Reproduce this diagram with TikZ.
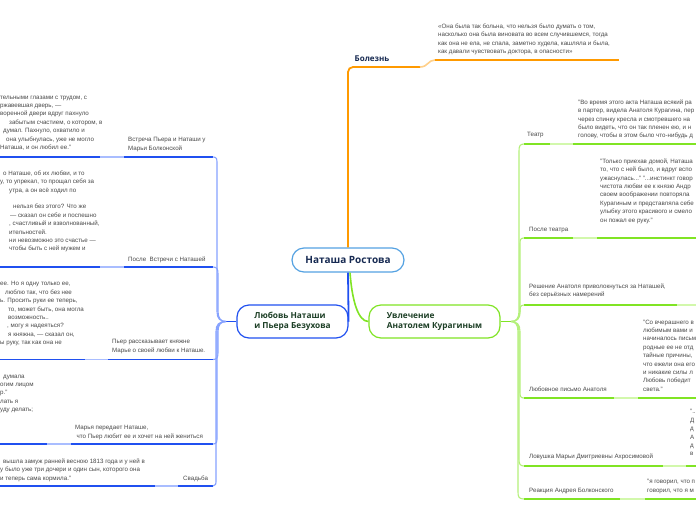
\documentclass[tikz,border=0pt]{standalone}
\usepackage{fontspec}
\setmainfont{Liberation Sans}
\newfontfamily\headfont{Open Sans}
\definecolor{notegray}{HTML}{4A4A4A}
\definecolor{bdark}{HTML}{2050F0}
\definecolor{blight}{HTML}{A9BDFF}
\definecolor{bfan}{HTML}{86A2FF}
\definecolor{gdark}{HTML}{80E424}
\definecolor{glight}{HTML}{D2F8AC}
\definecolor{gfan}{HTML}{B4F07A}
\definecolor{odark}{HTML}{FF9A00}
\definecolor{olight}{HTML}{FFD08A}
\definecolor{cborder}{HTML}{55A2E2}
\definecolor{navy}{HTML}{172A52}
\definecolor{dgreen}{HTML}{1D3F26}
\tikzset{
  txt/.style={font=\fontsize{6.2}{8.4}\selectfont, text=notegray, inner sep=0pt, align=left, anchor=north west},
  uline/.style={line width=1.6pt},
  fanL/.style={bfan, line width=1.1pt},
  fanR/.style={gfan, line width=1.1pt},
  mainnode/.style={draw, line width=1.2pt, rounded corners=12pt, fill=white, inner sep=0pt,
    font=\headfont\bfseries\fontsize{8.3}{10.6}\selectfont, text=dgreen, align=left}
}
\begin{document}
\begin{tikzpicture}[x=1pt,y=-1pt]
\clip (0,0) rectangle (696,520);
\fill[white] (0,0) rectangle (696,520);

% ---------- central and main nodes ----------
\node[draw=cborder, line width=1.2pt, rounded corners=12pt, fill=white, minimum width=112pt, minimum height=24pt,
  inner sep=0pt, font=\headfont\bfseries\fontsize{10}{12}\selectfont, text=navy] (c) at (348,260) {Наташа Ростова};
\node[mainnode, draw=bdark, minimum width=111pt, minimum height=33pt] (lm) at (292.5,321.5) {Любовь Наташи\\и Пьера Безухова};
\node[mainnode, draw=gdark, minimum width=131pt, minimum height=33pt] (rm) at (434.5,321.5) {Увлечение\\Анатолем Курагиным};

% ---------- Болезнь ----------
\node[font=\headfont\bfseries\fontsize{8}{10}\selectfont, text=navy, inner sep=0pt] (bol) at (372,58.5) {Болезнь};
\coordinate (bolL) at (348,67);
\coordinate (bolR) at (420,67);
\draw[odark, line width=1.8pt, rounded corners=5pt] (c.north) -- (bolL) -- (bolR);
\draw[olight, uline] (bolR) .. controls (428,67) and (428,60) .. (435,60);
\draw[odark, uline] (435,60) -- (619,60);
\node[txt] (nbol) at (438,23.5) {«Она была так больна, что нельзя было думать о том,\\насколько она была виновата во всем случившемся, тогда\\как она не ела, не спала, заметно худела, кашляла и была,\\как давали чувствовать доктора, в опасности»};

% ---------- main connectors ----------
\draw[bdark, line width=1.8pt] (c.south) -- (lm.east);
\draw[gdark, line width=1.6pt] ([xshift=2pt]c.south) .. controls (352,300) and (358,321.5) .. (rm.west);

% ---------- left hub ----------
\coordinate (hubL) at (226,321.5);
\draw[bdark, line width=1.6pt] (lm.west) -- (hubL);

% B1
\coordinate (b1) at (213,157);
\draw[bdark,uline] (0,157) -- (100,157); \draw[blight,uline] (100,157) -- (124,157); \draw[bdark,uline] (124,157) -- (b1);
\draw[fanL] (b1) .. controls (217,157) and (217,159) .. (217,164) -- (217,311.5) .. controls (217,318.5) and (220,321.5) .. (hubL);
\node[txt] (l1) at (128,137.5) {Встреча Пьера и Наташи у\\Марьи Болконской};
\node[txt] (n1) at (0,95.5) {тельными глазами с трудом, с\\ржавевшая дверь, —\\воренной двери вдруг пахнуло\\\hspace*{9pt}забытым счастием, о котором, в\\\hspace*{3pt}думал. Пахнуло, охватило и\\\hspace*{6pt}она улыбнулась, уже не могло\\Наташа, и он любил ее."};

% B2
\coordinate (b2) at (213,267);
\draw[bdark,uline] (0,267) -- (100,267); \draw[blight,uline] (100,267) -- (124,267); \draw[bdark,uline] (124,267) -- (b2);
\draw[fanL] (b2) .. controls (217,267) and (218,269) .. (218,274) -- (218,311.5) .. controls (218,318.5) and (221,321.5) .. (hubL);
\node[txt] (l2) at (128,256.5) {После~ Встречи с Наташей};
\node[txt] (n2) at (0,170.5) {\hspace*{3pt}о Наташе, об их любви, и то\\у, то упрекал, то прощал себя за\\\hspace*{9pt}утра, а он всё ходил по\\[8.4pt]\hspace*{13pt}нельзя без этого? Что же\\\hspace*{10pt}— сказал он себе и поспешно\\\hspace*{9pt}, счастливый и взволнованный,\\\hspace*{9pt}ительностей.\\\hspace*{9pt}ни невозможно это счастье —\\\hspace*{9pt}чтобы быть с ней мужем и};

% B3
\coordinate (b3) at (213,359.5);
\draw[bdark,uline] (0,359.5) -- (85,359.5); \draw[blight,uline] (85,359.5) -- (108,359.5); \draw[bdark,uline] (108,359.5) -- (b3);
\draw[fanL] (b3) .. controls (217,359.5) and (218,357.5) .. (218,352.5) -- (218,331.5) .. controls (218,324.5) and (221,321.5) .. (hubL);
\node[txt] (l3) at (112,339.5) {Пьер рассказывает княжне\\Марье о своей любви к Наташе.};
\node[txt] (n3) at (0,281.5) {ее. Но я одну только ее,\\\hspace*{5pt}люблю так, что без нее\\ь. Просить руки ее теперь,\\\hspace*{8pt}то, может быть, она могла\\\hspace*{8pt}возможность..\\\hspace*{7pt}, могу я надеяться?\\\hspace*{8pt}я княжна, — сказал он,\\ы руку, так как она не};

% B4
\coordinate (b4) at (213,444);
\draw[bdark,uline] (0,444) -- (47,444); \draw[blight,uline] (47,444) -- (71,444); \draw[bdark,uline] (71,444) -- (b4);
\draw[fanL] (b4) .. controls (217,444) and (217,442) .. (217,437) -- (217,331.5) .. controls (217,324.5) and (220,321.5) .. (hubL);
\node[txt] (l4) at (75,425.5) {Марья передает Наташе,\\\hspace*{1.5pt}что Пьер любит ее и хочет на ней жениться};
\node[txt] (n4) at (0,374.5) {\hspace*{3pt}думала\\огим лицом\\р."\\лать я\\уду делать;};

% B5
\coordinate (b5) at (213,486);
\draw[bdark,uline] (0,486) -- (155,486); \draw[blight,uline] (155,486) -- (178,486); \draw[bdark,uline] (178,486) -- (b5);
\draw[fanL] (b5) .. controls (216,486) and (216,484) .. (216,479) -- (216,331.5) .. controls (216,324.5) and (219,321.5) .. (hubL);
\node[txt] (l5) at (183,475.5) {Свадьба};
\node[txt] (n5) at (0,458.5) {\hspace*{3pt}вышла замуж ранней весною 1813 года и у ней в\\у было уже три дочери и один сын, которого она\\и теперь сама кормила."};

% ---------- right hub ----------
\coordinate (hubR) at (511,321.5);
\draw[gdark, line width=1.6pt] (rm.east) -- (hubR);

% R1
\coordinate (r1) at (524,144);
\draw[gdark,uline] (r1) -- (550,144); \draw[glight,uline] (550,144) -- (573,144); \draw[gdark,uline] (573,144) -- (696,144);
\draw[fanR] (r1) .. controls (520,144) and (519,146) .. (519,151) -- (519,311.5) .. controls (519,318.5) and (516,321.5) .. (hubR);
\node[txt] (rl1) at (527,132.5) {Театр};
\node[txt] (rn1) at (578,99.5) {"Во время этого акта Наташа всякий ра\\в партер, видела Анатоля Курагина, пер\\через спинку кресла и смотревшего на\\было видеть, что он так пленен ею, и н\\голову, чтобы в этом было что-нибудь д};

% R2
\coordinate (r2) at (524,238);
\draw[gdark,uline] (r2) -- (573,238); \draw[glight,uline] (573,238) -- (597,238); \draw[gdark,uline] (597,238) -- (696,238);
\draw[fanR] (r2) .. controls (520,238) and (520,240) .. (520,245) -- (520,311.5) .. controls (520,318.5) and (517,321.5) .. (hubR);
\node[txt] (rl2) at (529,227.5) {После театра};
\node[txt] (rn2) at (600,158.5) {"Только приехав домой, Наташа\\то, что с ней было, и вдруг вспо\\ужаснулась..." "...инстинкт говор\\чистота любви ее к князю Андр\\своем воображении повторяла\\Курагиным и представляла себе\\улыбку этого красивого и смело\\он пожал ее руку."};

% R3
\coordinate (r3) at (524,305);
\draw[gdark,uline] (r3) -- (677,305); \draw[glight,uline] (677,305) -- (696,305);
\draw[fanR] (r3) .. controls (520,305) and (520,308) .. (520,312) .. controls (520,318.5) and (517,321.5) .. (hubR);
\node[txt] (rl3) at (529,283.5) {Решение Анатоля приволокнуться за Наташей,\\без серьёзных намерений};

% R4
\coordinate (r4) at (524,398);
\draw[gdark,uline] (r4) -- (614,398); \draw[glight,uline] (614,398) -- (638,398); \draw[gdark,uline] (638,398) -- (696,398);
\draw[fanR] (r4) .. controls (520,398) and (520,396) .. (520,391) -- (520,331.5) .. controls (520,324.5) and (517,321.5) .. (hubR);
\node[txt] (rl4) at (529,386.5) {Любовное письмо Анатоля};
\node[txt] (rn4) at (643,319.5) {"Со вчерашнего в\\любимым вами и\\начиналось письм\\родные ее не отд\\тайные причины,\\что ежели она его\\и никакие силы л\\Любовь победит\\света."};

% R5
\coordinate (r5) at (524,466);
\draw[gdark,uline] (r5) -- (663,466); \draw[glight,uline] (663,466) -- (686,466); \draw[gdark,uline] (686,466) -- (696,466);
\draw[fanR] (r5) .. controls (520,466) and (519,464) .. (519,459) -- (519,331.5) .. controls (519,324.5) and (516,321.5) .. (hubR);
\node[txt] (rl5) at (529,453.5) {Ловушка Марьи Дмитриевны Ахросимовой};
\node[txt] (rn5) at (690,409.5) {"..\\Д\\д\\А\\д\\в};

% R6
\coordinate (r6) at (524,499);
\draw[gdark,uline] (r6) -- (620,499); \draw[glight,uline] (620,499) -- (645,499); \draw[gdark,uline] (645,499) -- (696,499);
\draw[fanR] (r6) .. controls (519,499) and (518,497) .. (518,492) -- (518,331.5) .. controls (518,324.5) and (515,321.5) .. (hubR);
\node[txt] (rl6) at (529,488.5) {Реакция Андрея Болконского};
\node[txt] (rn6) at (647,479.5) {"я говорил, что п\\говорил, что я м};
\end{tikzpicture}
\end{document}
